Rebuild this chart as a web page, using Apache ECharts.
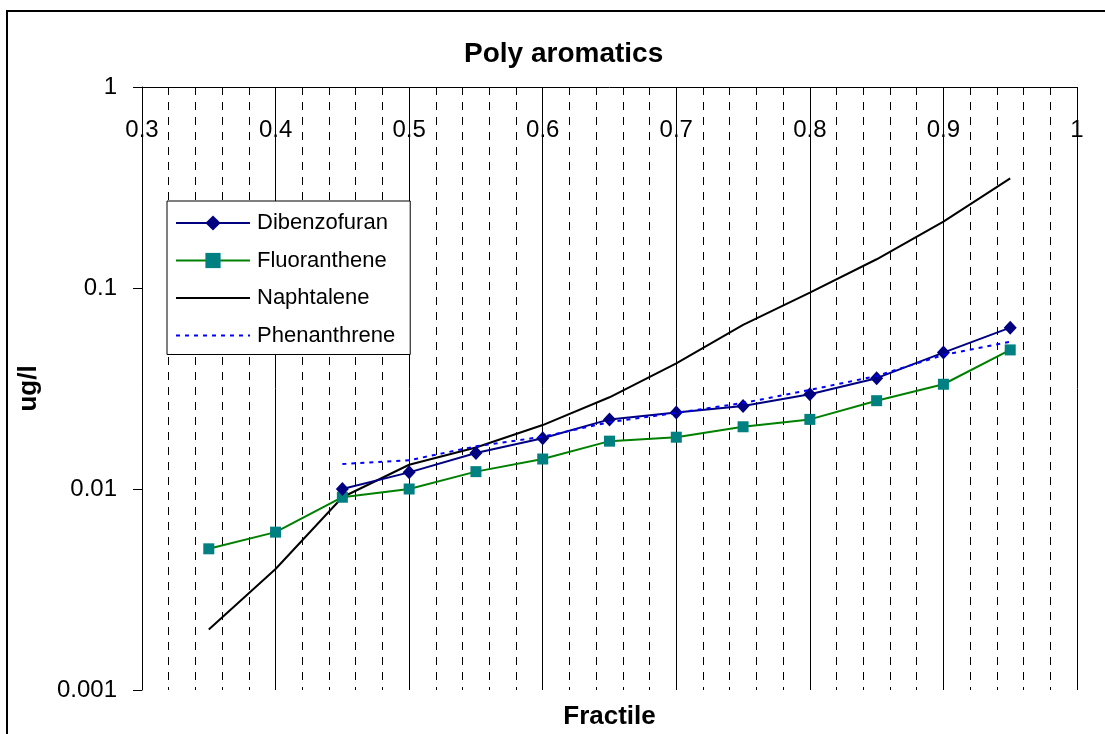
<!DOCTYPE html>
<html>
<head>
<meta charset="utf-8">
<script src="https://cdn.jsdelivr.net/npm/echarts@6/dist/echarts.min.js"></script>
<style>
html,body{margin:0;padding:0;background:#fff;}
#chart{width:1105px;height:734px;}
</style>
</head>
<body>
<div id="chart"></div>
<script>
const seriesNames = ['Dibenzofuran', 'Fluoranthene', 'Naphtalene', 'Phenanthrene'];
const xDibenzofuran = [0.45, 0.5, 0.55, 0.6, 0.65, 0.7, 0.75, 0.8, 0.85, 0.9, 0.95];
const yDibenzofuran = [0.0100, 0.0121, 0.0151, 0.0179, 0.0222, 0.0240, 0.0259, 0.0296, 0.0356, 0.0477, 0.0635];
const xFluoranthene = [0.35, 0.4, 0.45, 0.5, 0.55, 0.6, 0.65, 0.7, 0.75, 0.8, 0.85, 0.9, 0.95];
const yFluoranthene = [0.00504, 0.0061, 0.0091, 0.0100, 0.0122, 0.0141, 0.0173, 0.0181, 0.0204, 0.0222, 0.0275, 0.0332, 0.0492];
const xNaphtalene = [0.35, 0.4, 0.45, 0.5, 0.55, 0.6, 0.65, 0.7, 0.75, 0.8, 0.85, 0.9, 0.95];
const yNaphtalene = [0.0020, 0.0040, 0.0091, 0.0132, 0.0161, 0.0208, 0.0286, 0.0422, 0.0655, 0.0948, 0.139, 0.214, 0.351];
const xPhenanthrene = [0.45, 0.5, 0.55, 0.6, 0.65, 0.7, 0.75, 0.8, 0.85, 0.9, 0.95];
const yPhenanthrene = [0.0133, 0.0139, 0.0163, 0.0182, 0.0215, 0.0239, 0.0268, 0.0311, 0.0365, 0.0464, 0.0540];

function pairs(xs, ys) { return xs.map((x, i) => [x, ys[i]]); }

const chart = echarts.init(document.getElementById('chart'), null, {renderer: 'canvas'});
const font = '"Liberation Sans", Arial, sans-serif';
chart.setOption({
  animation: false,
  backgroundColor: '#fff',
  textStyle: {fontFamily: font},
  graphic: [{
    type: 'rect', shape: {x: 7, y: 11, width: 1300, height: 1000},
    style: {fill: 'none', stroke: '#000', lineWidth: 2}, silent: true, z: 100
  }],
  title: {
    text: 'Poly aromatics', left: 459, top: 35,
    textStyle: {fontFamily: font, fontSize: 28, fontWeight: 'bold', color: '#000'}
  },
  legend: {
    orient: 'vertical', left: 167, top: 201,
    padding: [11, 15, 8, 8], itemGap: 15.5,
    itemWidth: 74, itemHeight: 19,
    backgroundColor: '#fff', borderColor: '#000', borderWidth: 1,
    textStyle: {fontFamily: font, fontSize: 22, color: '#000', padding: [0, 0, 0, 2]},
    data: [
      {name: seriesNames[0]},
      {name: seriesNames[1]},
      {name: seriesNames[2], itemStyle: {opacity: 0}},
      {name: seriesNames[3], itemStyle: {opacity: 0}}
    ], z: 10
  },
  grid: {left: 142, top: 87, right: 28, bottom: 44, containLabel: false, outerBoundsMode: 'none'},
  xAxis: [{
    type: 'value', position: 'top', min: 0.3, max: 1, interval: 0.1,
    axisLine: {show: true, onZero: false, lineStyle: {color: '#000', width: 1}},
    axisTick: {show: false},
    axisLabel: {inside: true, margin: 31, fontSize: 24, color: '#000', fontFamily: font,
      formatter: v => String(Math.round(v * 10) / 10)},
    splitLine: {show: true, lineStyle: {color: '#000', width: 1}},
    minorTick: {show: false, splitNumber: 5},
    minorSplitLine: {show: true, lineStyle: {color: '#000', width: 1, type: [8, 7]}}
  }, {
    type: 'value', position: 'bottom', min: 0.3, max: 1,
    axisLine: {show: false}, axisTick: {show: false}, axisLabel: {show: false}, splitLine: {show: false},
    name: 'Fractile', nameLocation: 'middle', nameGap: 14,
    nameTextStyle: {fontFamily: font, fontSize: 26, fontWeight: 'bold', color: '#000'}
  }],
  yAxis: {
    type: 'log', logBase: 10, min: 0.001, max: 1,
    axisLine: {show: true, lineStyle: {color: '#000', width: 1}},
    axisTick: {show: true, length: 9, lineStyle: {color: '#000'}},
    axisLabel: {margin: 25, fontSize: 24, color: '#000', fontFamily: font,
      formatter: v => String(+v.toPrecision(3))},
    splitLine: {show: false},
    name: 'ug/l', nameLocation: 'middle', nameGap: 100, nameRotate: 90,
    nameTextStyle: {fontFamily: font, fontSize: 26, fontWeight: 'bold', color: '#000'}
  },
  series: [{
    name: seriesNames[0], type: 'line', data: pairs(xDibenzofuran, yDibenzofuran),
    symbol: 'diamond', symbolSize: [13, 14],
    itemStyle: {color: '#000080'}, lineStyle: {color: '#000080', width: 2}, z: 4
  }, {
    name: seriesNames[1], type: 'line', data: pairs(xFluoranthene, yFluoranthene),
    symbol: 'rect', symbolSize: 11,
    itemStyle: {color: '#008080'}, lineStyle: {color: '#008000', width: 2}, z: 3
  }, {
    name: seriesNames[2], type: 'line', data: pairs(xNaphtalene, yNaphtalene),
    symbol: 'none', itemStyle: {color: '#000'}, lineStyle: {color: '#000', width: 2}, z: 2
  }, {
    name: seriesNames[3], type: 'line', data: pairs(xPhenanthrene, yPhenanthrene),
    symbol: 'none', itemStyle: {color: '#0000ff'}, lineStyle: {color: '#0000ff', width: 2, type: [4, 5]}, z: 5
  }]
});
</script>
</body>
</html>
